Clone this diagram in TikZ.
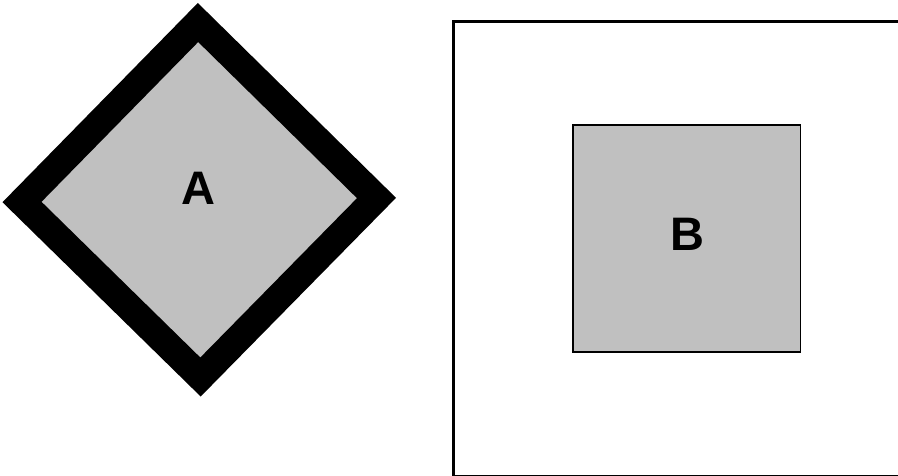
\documentclass[tikz,border=0pt]{standalone}
\usepackage{fontspec}
\setmainfont{Liberation Sans}
\definecolor{boxgray}{HTML}{C0C0C0}
\tikzset{
  lbl/.style={font=\fontsize{47}{50}\selectfont\bfseries, inner sep=0pt, anchor=center},
}
\begin{document}
\begin{tikzpicture}[x=1pt,y=-1pt]
\useasboundingbox (0,0) rectangle (898,475);
\clip (0,0) rectangle (898,475);
% diamond A
\draw[line width=27.6pt, line join=miter, fill=boxgray]
  (198,22.5) -- (376.5,198) -- (200.5,377) -- (22,202) -- cycle;
\node[lbl] (a) at (198,188) {A};
% frame and square B
\draw[line width=2.2pt] (453.5,21.5) rectangle (920,475.6);
\draw[line width=1.5pt, fill=boxgray] (573,125) rectangle (800.5,352);
\node[lbl] (b) at (687,234) {B};
\end{tikzpicture}
\end{document}
